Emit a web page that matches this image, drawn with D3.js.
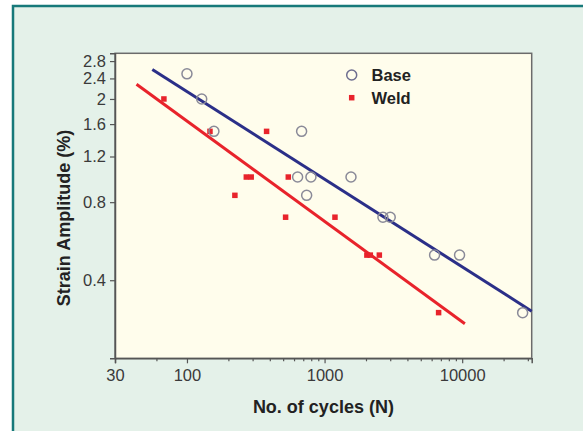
<!DOCTYPE html>
<html>
<head>
<meta charset="utf-8">
<script src="https://cdn.jsdelivr.net/npm/d3@7"></script>
<style>
html,body{margin:0;padding:0;background:#fff;}
svg{display:block;font-family:"Liberation Sans",Arial,Helvetica,sans-serif;}
svg .tick text{font-size:16.5px;fill:#3a3a3a;}
</style>
</head>
<body>
<svg id="chart" width="583" height="431"></svg>
<script>
// ---- data ----
const baseCycles = [100, 128, 157, 681, 637, 796, 741, 1556, 2655, 3000, 6300, 9570, 27500];
const baseStrain = [2.5, 2.0, 1.5, 1.5, 1.0, 1.0, 0.85, 1.0, 0.7, 0.7, 0.5, 0.5, 0.3];
const weldCycles = [68, 147, 379, 270, 293, 545, 223, 521, 1190, 2030, 2150, 2500, 6740];
const weldStrain = [2.0, 1.5, 1.5, 1.0, 1.0, 1.0, 0.85, 0.7, 0.7, 0.5, 0.5, 0.5, 0.3];
const baseFitCycles = [56, 32000];
const baseFitStrain = [2.6, 0.304];
const weldFitCycles = [43, 10460];
const weldFitStrain = [2.28, 0.272];
const yTickValues = [0.4, 0.8, 1.2, 1.6, 2, 2.4, 2.8];
const xMajorTicks = [30, 100, 1000, 10000];
const xMinorTicks = [60, 200, 300, 400, 500, 600, 700, 800, 900, 2000, 3000, 4000, 5000, 6000, 7000, 8000, 9000, 20000, 30000];
const seriesNames = ["Base", "Weld"];

const svg = d3.select("#chart");
const L = 115, R = 531.7, T = 53.3, B = 358.3;

// outer frame
svg.append("rect").attr("x", 13).attr("y", 6).attr("width", 600).attr("height", 450)
  .attr("fill", "#e4f1e9").attr("stroke", "#17797a").attr("stroke-width", 2.5);

const x = d3.scaleLog().domain([30, 32000]).range([L, R]);
const y = d3.scaleLog().domain([0.2, 3.0]).range([B, T]);

// plot background
svg.append("rect").attr("x", L).attr("y", T).attr("width", R - L).attr("height", B - T)
  .attr("fill", "#fffdec").attr("stroke", "#6b6b6b").attr("stroke-width", 1.5);

// axes
const xAxisMajor = d3.axisBottom(x).tickValues(xMajorTicks).tickFormat(d3.format("d")).tickSize(5).tickPadding(6);
const xAxisMinor = d3.axisBottom(x).tickValues(xMinorTicks).tickFormat("").tickSize(3);
const gx = svg.append("g").attr("transform", `translate(0,${B})`);
gx.call(xAxisMajor);
const gxm = svg.append("g").attr("transform", `translate(0,${B})`).call(xAxisMinor);
gxm.select(".domain").remove();

const yAxis = d3.axisLeft(y).tickValues(yTickValues).tickFormat(d => String(d)).tickSize(5).tickPadding(4);
const gy = svg.append("g").attr("transform", `translate(${L},0)`).call(yAxis);

[gx, gxm, gy].forEach(g => {
  g.attr("font-size", 16.5).attr("font-family", "'Liberation Sans', Arial, sans-serif");
  g.selectAll(".domain").attr("stroke", "#555").attr("stroke-width", 1.5);
  g.selectAll(".tick line").attr("stroke", "#555").attr("stroke-width", 1.2);
  g.selectAll(".tick text").attr("fill", "#3a3a3a").attr("font-size", 16.5);
});

// fit lines
const line = d3.line().x(d => x(d[0])).y(d => y(d[1]));
svg.append("path").datum(baseFitCycles.map((c, i) => [c, baseFitStrain[i]]))
  .attr("d", line).attr("fill", "none").attr("stroke", "#2b2f88").attr("stroke-width", 3);
svg.append("path").datum(weldFitCycles.map((c, i) => [c, weldFitStrain[i]]))
  .attr("d", line).attr("fill", "none").attr("stroke", "#e8232b").attr("stroke-width", 3);

// points
const sq = 5.5;
svg.append("g").selectAll("rect").data(weldCycles.map((c, i) => [c, weldStrain[i]])).join("rect")
  .attr("x", d => x(d[0]) - sq / 2).attr("y", d => y(d[1]) - sq / 2)
  .attr("width", sq).attr("height", sq).attr("fill", "#e8232b");
svg.append("g").selectAll("circle").data(baseCycles.map((c, i) => [c, baseStrain[i]])).join("circle")
  .attr("cx", d => x(d[0])).attr("cy", d => y(d[1])).attr("r", 5)
  .attr("fill", "none").attr("stroke", "#8a8a98").attr("stroke-width", 1.5);

// legend
const lg = svg.append("g");
lg.append("circle").attr("cx", 351.7).attr("cy", 75).attr("r", 5)
  .attr("fill", "none").attr("stroke", "#6e6e90").attr("stroke-width", 1.5);
lg.append("rect").attr("x", 351.7 - sq / 2).attr("y", 97.7 - sq / 2).attr("width", sq).attr("height", sq).attr("fill", "#e8232b");
lg.selectAll("text").data(seriesNames).join("text")
  .attr("x", 371.5).attr("y", (d, i) => 81 + i * 22.7)
  .attr("font-size", 16.5).attr("font-weight", "bold").attr("fill", "#222")
  .text(d => d);

// axis titles
svg.append("text").attr("x", 323.4).attr("y", 412.5).attr("text-anchor", "middle")
  .attr("font-size", 18).attr("font-weight", "bold").attr("fill", "#222").text("No. of cycles (N)");
svg.append("text").attr("transform", "translate(70,218) rotate(-90)").attr("text-anchor", "middle")
  .attr("font-size", 18).attr("font-weight", "bold").attr("fill", "#222").text("Strain Amplitude (%)");
</script>
</body>
</html>
